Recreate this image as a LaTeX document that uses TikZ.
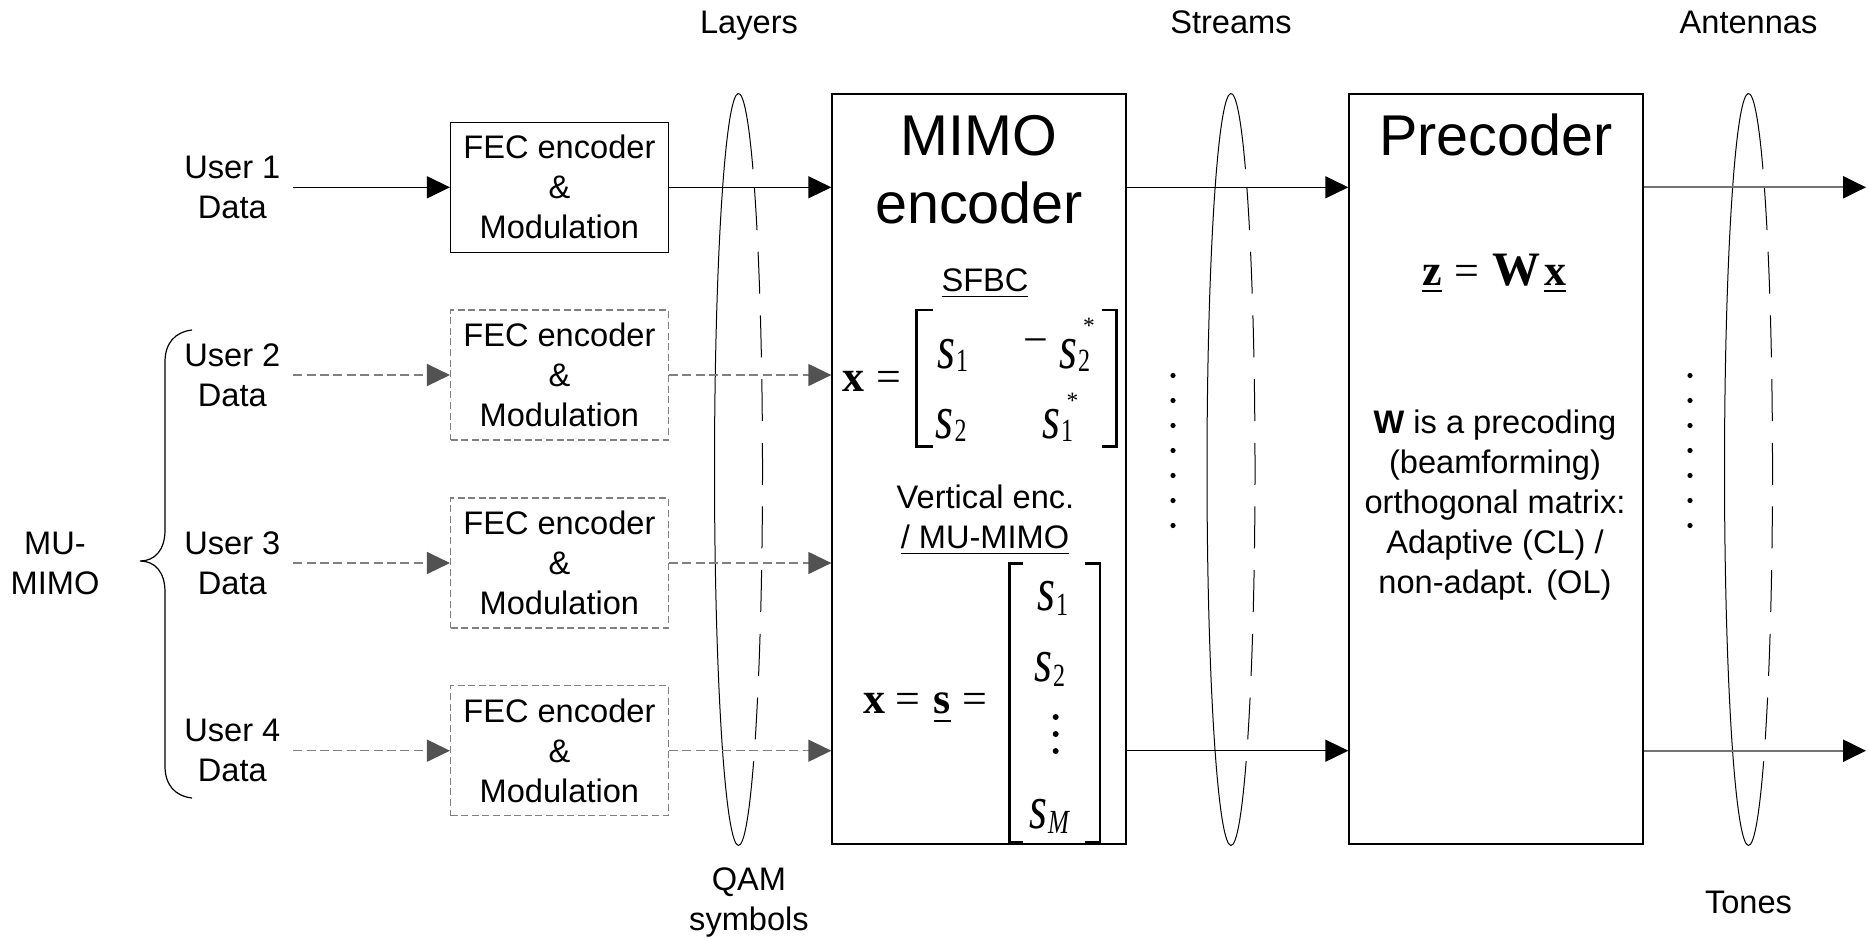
\documentclass[tikz,border=0pt]{standalone}
\usepackage{fontspec}
\setmainfont{Liberation Sans}
\newfontfamily\tnr{Liberation Serif}
\usepackage{graphicx}
\usetikzlibrary{arrows.meta,calc}
\newcommand\myul[3]{\setbox0\hbox{#3}\rlap{\rule[-#1]{\wd0}{#2}}\box0}
\newcommand\sv[3][12pt]{\scalebox{1}[1.35]{{\fontsize{23}{23}\selectfont\itshape s}\kern0.4pt\raisebox{-#2}{\upshape\fontsize{#1}{#1}\selectfont #3}}}
\tikzset{
  base/.style={font=\fontsize{16.3}{20}\selectfont, inner sep=0pt},
  lbl/.style={base, align=center},
  fecbox/.style={base, draw, align=center, minimum width=108.8pt, minimum height=65pt, line width=0.65pt},
  fecdash/.style={fecbox, draw=black!50, dash pattern=on 3.5pt off 1.8pt},
  bigbox/.style={draw, line width=0.65pt, minimum width=147pt, minimum height=375pt, inner sep=0pt},
  arrblack/.style={line width=0.65pt, -{Triangle[length=11.5pt,width=11pt]}},
  arrgray/.style={line width=0.65pt, draw=black!50, dash pattern=on 4.5pt off 2.2pt, -{Triangle[length=11.5pt,width=11pt,color=black!68]}},
  arrout/.style={line width=1.1pt, draw=black!55, -{Triangle[length=11.5pt,width=11pt,color=black]}},
  ell/.style={line width=0.5pt},
  mth/.style={font=\tnr\fontsize{22}{22}\selectfont, inner sep=0pt},
  starsym/.style={font=\tnr\fontsize{11.7}{12}\selectfont, inner sep=0pt, anchor=base},
  title/.style={font=\fontsize{28.75}{34}\selectfont, inner sep=0pt, anchor=base},
  brack/.style={line width=1.4pt, line cap=butt, line join=miter},
}
\begin{document}
\begin{tikzpicture}[x=0.5pt,y=-0.5pt]
\fill[white] (0,0) rectangle (1868,938);
\useasboundingbox (0,0) rectangle (1868,938);

% grouping ellipses
\foreach \cx in {738.5,1231,1748.5}{
  \draw[ell] ([shift={(51:24 and 376)}]\cx,469.5) arc[start angle=51,end angle=307,x radius=24,y radius=376];
  \draw[ell,dash pattern=on 21pt off 10.85pt,dash phase=22.35pt] ([shift={(-53:24 and 376)}]\cx,469.5) arc[start angle=-53,end angle=51,x radius=24,y radius=376];
}

% top / bottom labels
\node[base, anchor=base] (tlayers) at (749,33) {Layers};
\node[base, anchor=base] (tstreams) at (1231,33) {Streams};
\node[base, anchor=base] (tant) at (1748.5,33) {Antennas};
\node[lbl] (tqam) at (749,902.7) {QAM\\symbols};
\node[base, anchor=base] (ttones) at (1748.5,913) {Tones};
\node[lbl] (tmu) at (55,563.4) {MU-\\MIMO};

% brace
\draw[line width=0.6pt] (192,330) .. controls (175,332) and (165,343) .. (165,362) -- (165,530) .. controls (165,550) and (155,561) .. (140,561) .. controls (155,561) and (165,572) .. (165,592) -- (165,766) .. controls (165,785) and (175,796) .. (192,798);

% users
\node[lbl, inner xsep=6.25pt] (u1) at (232.3,187.3) {User 1\\Data};
\node[lbl, inner xsep=6.25pt] (u2) at (232.3,375) {User 2\\Data};
\node[lbl, inner xsep=6.25pt] (u3) at (232.3,563) {User 3\\Data};
\node[lbl, inner xsep=6.25pt] (u4) at (232.3,750.7) {User 4\\Data};

% FEC boxes
\node[fecbox] (fec1) at (559.4,187.3) {FEC encoder\\\&\\Modulation};
\node[fecdash] (fec2) at (559.4,375) {FEC encoder\\\&\\Modulation};
\node[fecdash] (fec3) at (559.4,563) {FEC encoder\\\&\\Modulation};
\node[fecdash] (fec4) at (559.4,750.7) {FEC encoder\\\&\\Modulation};

% big boxes
\node[bigbox] (mimo) at (979,469) {};
\node[bigbox] (prec) at (1496,469) {};
\coordinate (out1) at (1866,187.3);
\coordinate (out4) at (1866,750.7);

% connectors
\draw[arrblack] (u1) -- (fec1);
\draw[arrgray] (u2) -- (fec2);
\draw[arrgray] (u3) -- (fec3);
\draw[arrgray] (u4) -- (fec4);
\draw[arrblack] (fec1.east) -- (fec1.east -| mimo.west);
\draw[arrgray] (fec2.east) -- (fec2.east -| mimo.west);
\draw[arrgray] (fec3.east) -- (fec3.east -| mimo.west);
\draw[arrgray] (fec4.east) -- (fec4.east -| mimo.west);
\draw[arrblack] (fec1.east -| mimo.east) -- (fec1.east -| prec.west);
\draw[arrblack] (fec4.east -| mimo.east) -- (fec4.east -| prec.west);
\draw[arrout] (fec1.east -| prec.east) -- (out1);
\draw[arrout] (fec4.east -| prec.east) -- (out4);

% dots
\foreach \k in {0,...,6}{
  \fill ($(1173,375.5)+(0,25*\k)$) circle (1.3pt);
  \fill ($(1690,375.5)+(0,25*\k)$) circle (1.3pt);
}

% MIMO encoder contents
\node[title] (tmimo) at (979,155) {MIMO};
\node[title] (tenc) at (979,223) {encoder};
\node[base, anchor=base] (tsfbc) at (985,291) {\myul{3pt}{0.7pt}{SFBC}};
\node[mth, anchor=base west] (xeq1) at (841.7,391.7) {{\bfseries x}\kern6.2pt=};
\draw[brack] (933.3,310) -- (916.7,310) -- (916.7,446.7) -- (933.3,446.7);
\draw[brack] (1101.7,310) -- (1116.7,310) -- (1116.7,446.7) -- (1101.7,446.7);
\node[mth, anchor=base west] (e11) at (937,368.3) {\sv{1pt}{1}};
\node[mth, anchor=base] (mminus) at (1036,354) {−};
\node[mth, anchor=base west] (e12) at (1059,368.3) {\sv{1pt}{2}};
\node[mth, anchor=base west] (e21) at (935.5,438.3) {\sv{1pt}{2}};
\node[mth, anchor=base west] (e22) at (1042,438.3) {\sv{1pt}{1}};
\node[starsym] (st1) at (1089,333.3) {*};
\node[starsym] (st2) at (1072.5,408.3) {*};

\node[base, anchor=base] (tvert) at (985.5,508) {Vertical enc.};
\node[base, anchor=base] (tmumimo) at (985,548) {\myul{3pt}{0.7pt}{/ MU-MIMO}};
\node[mth, anchor=base west] (xeq2) at (863.3,713) {{\bfseries x}\kern5pt=\kern6.5pt\myul{4.5pt}{1pt}{\bfseries s}\kern6pt=};
\draw[brack] (1023,563.3) -- (1009.3,563.3) -- (1009.3,842) -- (1023,842);
\draw[brack] (1085,563.3) -- (1100,563.3) -- (1100,842) -- (1085,842);
\node[mth, anchor=base west] (v1) at (1037,610) {\sv{2pt}{1}};
\node[mth, anchor=base west] (v2) at (1034,681) {\sv{2pt}{2}};
\node[mth, anchor=base west] (vM) at (1029,828) {\sv[12.5pt]{2pt}{\itshape M}};
\foreach \yy in {717,734,751}{ \fill (1055.7,\yy) circle (1.5pt); }

% Precoder contents
\node[title] (tprec) at (1496,155) {Precoder};
\node[mth, anchor=base west] (zeq) at (1421.7,285) {\myul{3.5pt}{1pt}{\bfseries z}\kern6.5pt=\kern6.5pt{\fontsize{24}{24}\selectfont\bfseries W}\kern2pt\myul{3.5pt}{1pt}{\bfseries x}};
\node[lbl] (tw) at (1495,505.5) {\textbf{W} is a precoding\\(beamforming)\\orthogonal matrix:\\Adaptive (CL) /\\non-adapt. (OL)};
\end{tikzpicture}
\end{document}
